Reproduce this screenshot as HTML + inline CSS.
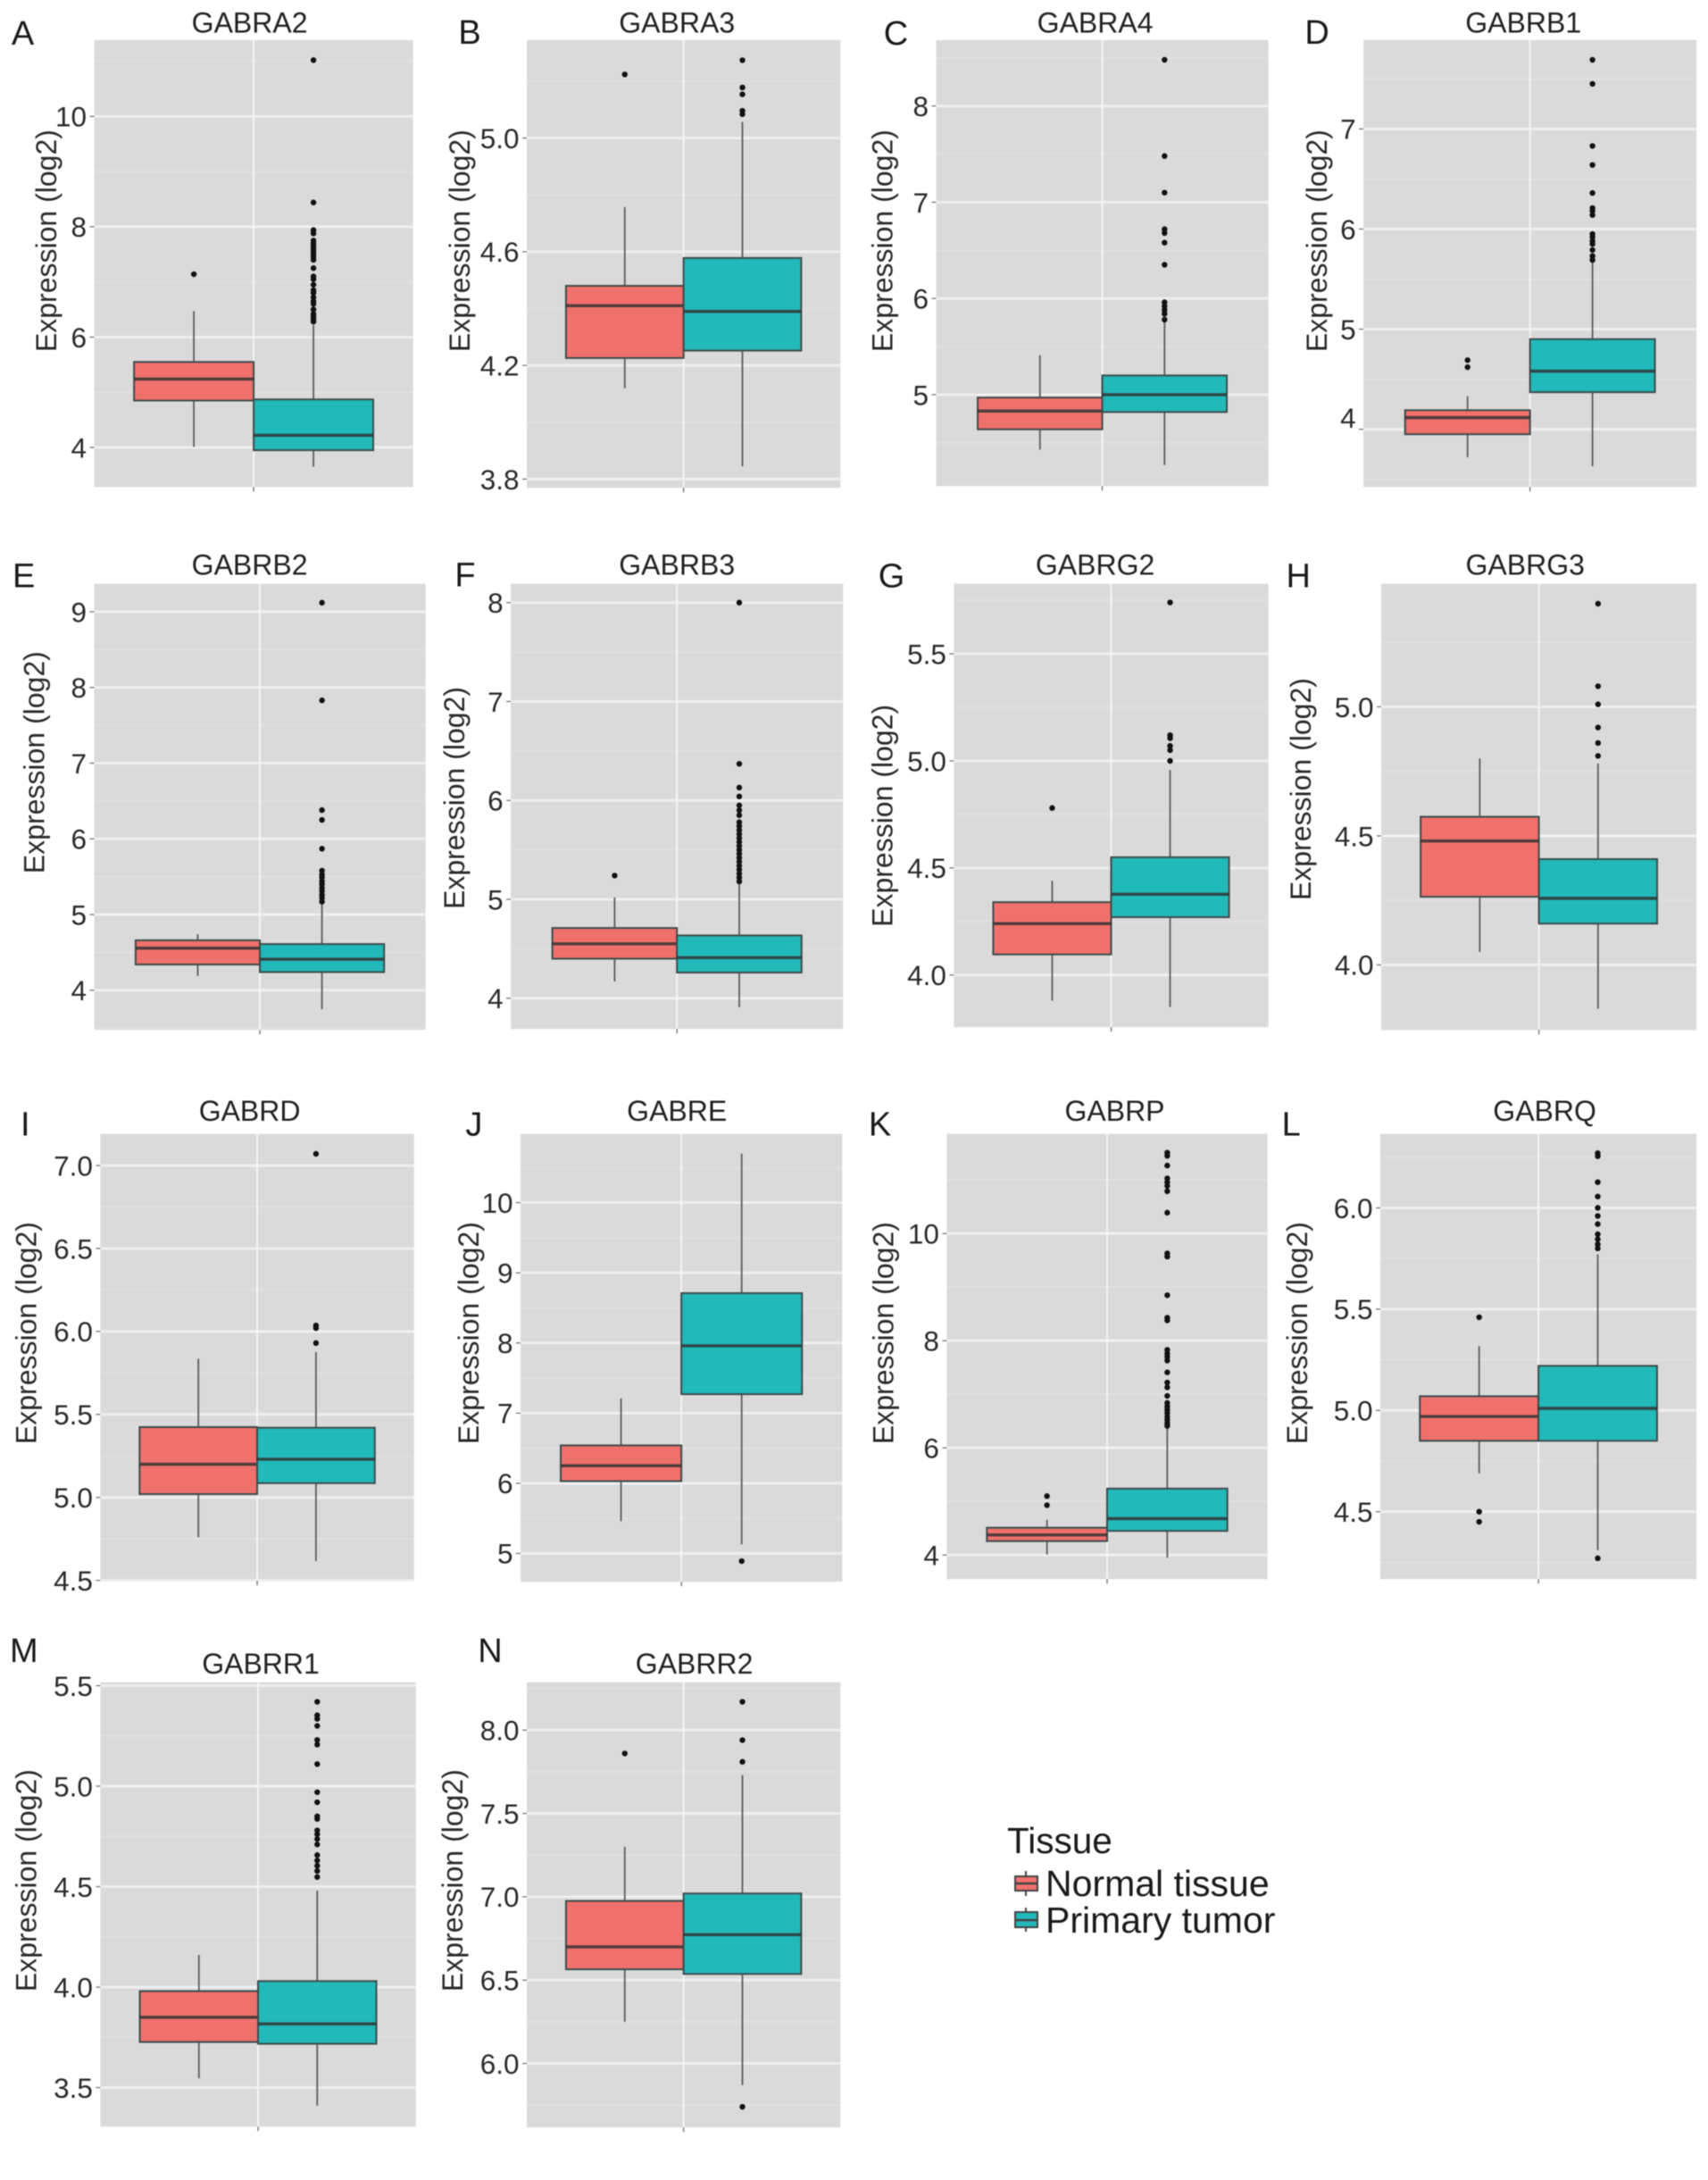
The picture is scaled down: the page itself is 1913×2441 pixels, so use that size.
<!DOCTYPE html>
<html lang="en">
<head>
<meta charset="utf-8">
<title>GABA receptor subunit expression</title>
<style>
html,body{margin:0;padding:0;background:#fff;}
body{width:1913px;height:2441px;overflow:hidden;}
svg{display:block;filter:blur(0.6px);}
text{font-family:"Liberation Sans",sans-serif;}
</style>
</head>
<body>
<svg id="figure" xmlns="http://www.w3.org/2000/svg" width="1913" height="2441" viewBox="0 0 1913 2441">
  <g id="panels"></g>
  <g>
    <text x="1128" y="2075" font-size="40.5" fill="#1a1a1a">Tissue</text>
    <g>
      <line x1="1149" x2="1149" y1="2095" y2="2123" stroke="#444" stroke-width="2"/>
      <rect x="1137" y="2101" width="25" height="16" fill="#F0706C" stroke="#444" stroke-width="2"/>
      <line x1="1137" x2="1162" y1="2109" y2="2109" stroke="#444" stroke-width="2.5"/>
      <text x="1171" y="2123" font-size="41" fill="#1a1a1a">Normal tissue</text>
    </g>
    <g>
      <line x1="1149" x2="1149" y1="2136" y2="2163" stroke="#444" stroke-width="2"/>
      <rect x="1137" y="2141" width="25" height="17" fill="#21B9B9" stroke="#444" stroke-width="2"/>
      <line x1="1137" x2="1162" y1="2150" y2="2150" stroke="#444" stroke-width="2.5"/>
      <text x="1171" y="2164" font-size="41" fill="#1a1a1a">Primary tumor</text>
    </g>
  </g>
</svg>
<script>
// ---------- chart data ----------
const panelLetters = ["A","B","C","D","E","F","G","H","I","J","K","L","M","N"];
const genes = ["GABRA2","GABRA3","GABRA4","GABRB1","GABRB2","GABRB3","GABRG2","GABRG3","GABRD","GABRE","GABRP","GABRQ","GABRR1","GABRR2"];
const groups = ["Normal tissue","Primary tumor"];
const yDomains = [
  [3.283,11.385],[3.769,5.345],[4.05,8.686],[3.423,7.888],
  [3.476,9.37],[3.689,8.19],[3.756,5.827],[3.748,5.477],
  [4.497,7.19],[4.595,10.98],[3.55,11.86],[4.167,6.365],
  [3.306,5.517],[5.616,8.287]
];
const tickLabels = [
  ["4","6","8","10"],["3.8","4.2","4.6","5.0"],["5","6","7","8"],["4","5","6","7"],
  ["4","5","6","7","8","9"],["4","5","6","7","8"],["4.0","4.5","5.0","5.5"],["4.0","4.5","5.0"],
  ["4.5","5.0","5.5","6.0","6.5","7.0"],["5","6","7","8","9","10"],["4","6","8","10"],["4.5","5.0","5.5","6.0"],
  ["3.5","4.0","4.5","5.0","5.5"],["6.0","6.5","7.0","7.5","8.0"]
];
// each row: whisker low, q1, median, q3, whisker high
const normalStats = [
  [4.01,4.85,5.24,5.55,6.47],[4.12,4.226,4.41,4.48,4.757],[4.43,4.64,4.83,4.97,5.41],[3.72,3.95,4.116,4.19,4.33],
  [4.19,4.34,4.556,4.66,4.74],[4.17,4.40,4.55,4.71,5.02],[3.88,4.096,4.24,4.34,4.44],[4.05,4.264,4.48,4.574,4.80],
  [4.76,5.02,5.2,5.424,5.836],[5.46,6.03,6.25,6.54,7.21],[4.01,4.26,4.376,4.51,4.657],[4.69,4.85,4.97,5.07,5.317],
  [3.547,3.727,3.85,3.98,4.16],[6.25,6.565,6.70,6.975,7.30]
];
const tumorStats = [
  [3.65,3.95,4.22,4.87,6.22],[3.845,4.252,4.39,4.578,5.057],[4.27,4.82,5.0,5.2,5.76],[3.63,4.37,4.58,4.90,5.66],
  [3.75,4.24,4.41,4.61,5.15],[3.91,4.26,4.41,4.635,5.15],[3.85,4.27,4.377,4.55,4.957],[3.83,4.16,4.258,4.41,4.78],
  [4.617,5.086,5.23,5.42,5.877],[5.13,7.27,7.96,8.71,10.70],[3.95,4.45,4.68,5.24,6.39],[4.31,4.85,5.01,5.22,5.77],
  [3.41,3.718,3.817,4.03,4.48],[5.87,6.537,6.773,7.02,7.73]
];
const normalOutliers = [
  [7.14],[5.224],[],[4.69,4.62],
  [],[5.24],[4.78],[],
  [],[],[5.10,4.93],[5.46,4.50,4.45],
  [],[7.86]
];
const tumorOutliers = [
  [11.02,8.44,7.94,7.88,7.75,7.7,7.65,7.6,7.55,7.5,7.45,7.4,7.25,7.1,7.05,6.95,6.85,6.8,6.72,6.65,6.6,6.5,6.42,6.38,6.33,6.28],
  [5.274,5.178,5.154,5.096,5.084],
  [8.48,7.48,7.10,6.72,6.68,6.58,6.35,5.96,5.92,5.88,5.84,5.78],
  [7.69,7.45,6.83,6.64,6.36,6.21,6.18,6.14,5.95,5.92,5.88,5.85,5.79,5.73,5.69],
  [9.12,7.83,6.38,6.25,5.87,5.58,5.53,5.49,5.44,5.40,5.35,5.31,5.26,5.22,5.17],
  [8.0,6.37,6.13,6.04,5.95,5.90,5.85,5.78,5.74,5.70,5.66,5.62,5.58,5.54,5.50,5.46,5.42,5.38,5.34,5.30,5.26,5.22,5.18],
  [5.74,5.12,5.106,5.07,5.05,5.0],
  [5.40,5.08,5.01,4.92,4.86,4.81],
  [7.07,6.036,6.02,5.93],
  [4.89],
  [11.51,11.45,11.27,11.03,10.96,10.89,10.79,10.39,9.63,9.57,8.85,8.43,8.38,7.83,7.76,7.70,7.63,7.41,7.22,7.13,6.97,6.84,6.77,6.71,6.65,6.58,6.52,6.46,6.41],
  [6.27,6.255,6.127,6.056,6.0,5.96,5.92,5.87,5.845,5.82,5.80,4.27],
  [5.42,5.353,5.335,5.30,5.23,5.207,5.11,4.97,4.92,4.85,4.837,4.78,4.76,4.737,4.71,4.657,4.63,4.604,4.578,4.548],
  [8.17,7.94,7.81,5.74]
];

// ---------- page layout (not data) ----------
const frames = [
  {l:105.5,r:462.7,t:44.8,b:545.3,lx:12.9,ly:49.8,tx:279.6,ty:36.3,ax:51.7,ay:269.6},
  {l:590,r:941.3,t:44.8,b:546.3,lx:513.4,ly:48.8,tx:758.2,ty:36.3,ax:514.4,ay:269.6},
  {l:1048.5,r:1420.6,t:44.8,b:544.3,lx:989.8,ly:49.8,tx:1226.6,ty:36.3,ax:987.8,ay:269.6},
  {l:1527.1,r:1900.2,t:44.8,b:545.3,lx:1461.4,ly:48.8,tx:1706.2,ty:36.3,ax:1474.4,ay:269.6,nudge:{"4":-13}},
  {l:105.5,r:476.6,t:653.7,b:1153.2,lx:14,ly:657.7,tx:279.6,ty:643.3,ax:37.8,ay:853.7},
  {l:572.1,r:944.3,t:653.7,b:1152.2,lx:509.4,ly:656.7,tx:758.2,ty:643.3,ax:508.4,ay:893.5},
  {l:1068.4,r:1420.6,t:653.7,b:1150.2,lx:983.8,ly:657.7,tx:1226.6,ty:643.3,ax:987.8,ay:913.4},
  {l:1547,r:1900.2,t:653.7,b:1153.2,lx:1440.5,ly:657.7,tx:1708.2,ty:643.3,ax:1456.5,ay:883.6},
  {l:112.4,r:463.7,t:1269.7,b:1770.2,lx:23,ly:1271.7,tx:279.6,ty:1254.8,ax:28.9,ay:1492.6},
  {l:583,r:943.3,t:1269.7,b:1771.2,lx:521.4,ly:1271.7,tx:758.2,ty:1254.8,ax:524.4,ay:1492.6},
  {l:1060.4,r:1419.6,t:1269.7,b:1768.2,lx:972.9,ly:1271.7,tx:1248.5,ty:1254.8,ax:988.8,ay:1492.6},
  {l:1546,r:1900.2,t:1269.7,b:1768.2,lx:1435.6,ly:1271.7,tx:1730.1,ty:1254.8,ax:1452.5,ay:1492.6},
  {l:112.4,r:465.7,t:1883.7,b:2381.2,lx:11,ly:1860.8,tx:292,ty:1874.2,ax:28.9,ay:2105.6},
  {l:590,r:941.3,t:1883.7,b:2382.2,lx:535.3,ly:1860.8,tx:777.6,ty:1874.2,ax:506.5,ay:2105.6}
];
const SVGNS = "http://www.w3.org/2000/svg";
const root = document.getElementById("panels");

function mk(tag, attrs, parent) {
  const node = document.createElementNS(SVGNS, tag);
  for (const k in attrs) node.setAttribute(k, attrs[k]);
  parent.appendChild(node);
  return node;
}
function yScale(i) {
  const f = frames[i], d = yDomains[i];
  return v => f.b - (v - d[0]) / (d[1] - d[0]) * (f.b - f.t);
}

function drawBox(parent, cx, halfBox, stats, outliers, y, fill, groupName) {
  const g = mk("g", {}, parent);
  
  

  const whisker = mk("line", {x1:cx, x2:cx, y1:y(stats[0]), y2:y(stats[4]), stroke:"#5c5c5c", "stroke-width":1.8}, g);
  
  

  outliers.forEach(v => {
    const dot = mk("circle", {cx:cx, cy:y(v), r:3.2, fill:"#111"}, g);
    
    
  });

  const box = mk("rect", {x:cx-halfBox, y:y(stats[3]), width:halfBox*2, height:y(stats[1])-y(stats[3]), fill:fill, stroke:"#3d4c4c", "stroke-width":2}, g);
  
  

  const med = mk("line", {x1:cx-halfBox, x2:cx+halfBox, y1:y(stats[2]), y2:y(stats[2]), stroke:"#333", "stroke-width":3.4, "stroke-opacity":0.85}, g);
  
  
}

genes.forEach((gene, i) => {
  const f = frames[i], y = yScale(i), w = f.r - f.l, cx = (f.l + f.r) / 2;
  const g = mk("g", {}, root);
  
  

  const letter = mk("text", {x:f.lx, y:f.ly, "font-size":38, fill:"#1a1a1a"}, g);
  letter.textContent = panelLetters[i];
  
  

  const title = mk("text", {x:f.tx, y:f.ty, "font-size":32, fill:"#222", "text-anchor":"middle"}, g);
  title.textContent = gene;
  
  

  const bg = mk("rect", {x:f.l, y:f.t, width:w, height:f.b-f.t, fill:"#DADADA"}, g);
  
  

  // minor gridlines sit half way between the major ticks
  const vals = tickLabels[i].map(Number);
  const step = vals[1] - vals[0];
  const d = yDomains[i];
  for (let m = vals[0] - step / 2; m < d[1]; m += step) {
    if (m <= d[0]) continue;
    const minor = mk("line", {x1:f.l, x2:f.r, y1:y(m), y2:y(m), stroke:"#E0E0E0", "stroke-width":2}, g);
    
    
  }

  tickLabels[i].forEach(lab => {
    const v = Number(lab);
    const major = mk("line", {x1:f.l, x2:f.r, y1:y(v), y2:y(v), stroke:"#EFEFEF", "stroke-width":3}, g);
    
    

    const tick = mk("line", {x1:f.l-5, x2:f.l, y1:y(v), y2:y(v), stroke:"#777", "stroke-width":1.3}, g);
    
    

    const shift = (f.nudge && f.nudge[lab]) || 0;
    const label = mk("text", {x:f.l-8.5, y:y(v)+shift, dy:"0.36em", "font-size":31.5, fill:"#2a2a2a", "text-anchor":"end"}, g);
    label.textContent = lab;
    
    
  });

  const vgrid = mk("line", {x1:cx, x2:cx, y1:f.t, y2:f.b, stroke:"#F4F4F4", "stroke-width":2}, g);
  
  

  const xtick = mk("line", {x1:cx, x2:cx, y1:f.b, y2:f.b+5, stroke:"#777", "stroke-width":1.4}, g);
  
  

  const axis = mk("text", {x:f.ax, y:f.ay, "font-size":32, fill:"#2a2a2a", "text-anchor":"middle", dy:"0.36em", transform:"rotate(-90 " + f.ax + " " + f.ay + ")"}, g);
  axis.textContent = "Expression (log2)";
  
  

  const half = w * 0.1875;
  drawBox(g, cx - half, half, normalStats[i], normalOutliers[i], y, "#F0706C", "normal-tissue");
  drawBox(g, cx + half, half, tumorStats[i], tumorOutliers[i], y, "#21B9B9", "primary-tumor");
});
</script>
</body>
</html>
